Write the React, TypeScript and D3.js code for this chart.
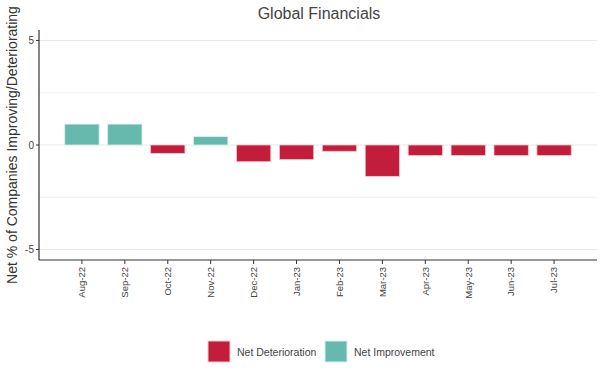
import React from "react";
import * as d3 from "d3";

const categories = ["Aug-22","Sep-22","Oct-22","Nov-22","Dec-22","Jan-23","Feb-23","Mar-23","Apr-23","May-23","Jun-23","Jul-23"];
const values = [1.0, 1.0, -0.4, 0.4, -0.8, -0.7, -0.3, -1.5, -0.5, -0.5, -0.5, -0.5];
const yTicks = [-5, 0, 5];
const yMinor = [-2.5, 2.5];
const legendItems = ["Net Deterioration", "Net Improvement"];

const RED = "#C21D3A";
const TEAL = "#66BAAD";
const FONT = "'Liberation Sans', Arial, sans-serif";

export default function App() {
  const W = 605, H = 378;
  const left = 39, right = 597, top = 30, bottom = 260;
  const x = d3.scaleLinear().domain([0, categories.length + 1]).range([left, right]);
  const y = d3.scaleLinear().domain([-5.5, 5.5]).range([bottom, top]);
  const bw = (x(1) - x(0)) * 0.8;
  return (
    <svg width={W} height={H} style={{ position: "absolute", left: 0, top: 0, background: "#fff" }} fontFamily={FONT}>
      <text x={319} y={19} textAnchor="middle" fontSize={16} fill="#444">Global Financials</text>
      {yMinor.map(v => (
        <line key={"m" + v} x1={left} x2={right} y1={y(v)} y2={y(v)} stroke="#f0f0f0" strokeWidth={0.8} />
      ))}
      {yTicks.map(v => (
        <line key={"g" + v} x1={left} x2={right} y1={y(v)} y2={y(v)} stroke="#e8e8e8" strokeWidth={1} />
      ))}
      {values.map((v, i) => (
        <rect key={categories[i]} x={x(i + 1) - bw / 2} width={bw}
          y={Math.min(y(v), y(0))} height={Math.abs(y(v) - y(0))}
          fill={v >= 0 ? TEAL : RED} stroke={v >= 0 ? "#d8f0ea" : "#f6c9cf"} strokeWidth={0.8} />
      ))}
      <line x1={left} x2={left} y1={top} y2={bottom} stroke="#333" strokeWidth={1.2} />
      <line x1={left} x2={right} y1={bottom} y2={bottom} stroke="#333" strokeWidth={1.2} />
      {yTicks.map(v => (
        <g key={"t" + v}>
          <line x1={left - 3} x2={left} y1={y(v)} y2={y(v)} stroke="#333" />
          <text x={left - 5} y={y(v)} dy="0.35em" textAnchor="end" fontSize={10} fill="#444">{v}</text>
        </g>
      ))}
      {categories.map((c, i) => (
        <g key={"x" + c}>
          <line x1={x(i + 1)} x2={x(i + 1)} y1={bottom} y2={bottom + 4} stroke="#333" />
          <text transform={`translate(${x(i + 1)},${bottom + 7}) rotate(-90)`} textAnchor="end" dy="0.35em" fontSize={9.5} fill="#444">{c}</text>
        </g>
      ))}
      <text transform={`translate(17,${(top + bottom) / 2}) rotate(-90)`} textAnchor="middle" fontSize={14} fill="#333">Net % of Companies Improving/Deteriorating</text>
      {legendItems.map((l, i) => {
        const lx = i === 0 ? 208 : 325;
        return (
          <g key={l}>
            <rect x={lx} y={341} width={22} height={21} fill={i === 0 ? RED : TEAL} stroke={i === 0 ? "#f6c9cf" : "#d8f0ea"} />
            <text x={lx + 29} y={352} dy="0.35em" fontSize={10.5} fill="#444">{l}</text>
          </g>
        );
      })}
    </svg>
  );
}
